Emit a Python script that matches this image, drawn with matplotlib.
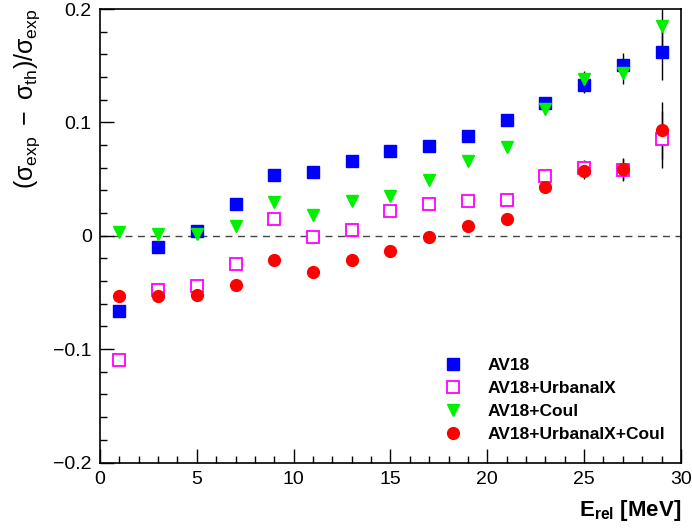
import matplotlib
matplotlib.use('Agg')
from matplotlib import pyplot as plt
from matplotlib.ticker import MultipleLocator

plt.rcParams['font.family'] = ['Liberation Sans', 'DejaVu Sans']
plt.rcParams['mathtext.fontset'] = 'custom'
plt.rcParams['mathtext.rm'] = 'Liberation Sans'
plt.rcParams['mathtext.it'] = 'Liberation Sans'
plt.rcParams['mathtext.bf'] = 'Liberation Sans:bold'

e_rel = [1, 3, 5, 7, 9, 11, 13, 15, 17, 19, 21, 23, 25, 27, 29]

av18 = [-0.066, -0.010, 0.004, 0.028, 0.054, 0.056, 0.066, 0.075, 0.079,
        0.088, 0.102, 0.117, 0.133, 0.151, 0.162]
av18_urb = [-0.110, -0.048, -0.044, -0.025, 0.015, -0.001, 0.005, 0.022,
            0.028, 0.031, 0.032, 0.053, 0.060, 0.058, 0.085]
av18_coul = [0.003, 0.002, 0.002, 0.009, 0.030, 0.018, 0.031, 0.035, 0.049,
             0.066, 0.078, 0.112, 0.138, 0.144, 0.185]
av18_urb_coul = [-0.053, -0.053, -0.052, -0.043, -0.021, -0.032, -0.021,
                 -0.013, -0.001, 0.009, 0.015, 0.043, 0.057, 0.059, 0.093]

errs = [0.001, 0.001, 0.001, 0.001, 0.001, 0.001, 0.001, 0.002, 0.002,
        0.002, 0.003, 0.005, 0.007, 0.010, 0.025]

fig = plt.figure(figsize=(6.92, 5.32), dpi=100)
ax = fig.add_axes([0.1445, 0.1306, 0.8395, 0.8524])

ax.axhline(0, color='#444444', ls=(0, (5, 4)), lw=1.0, zorder=1)

# error bars first, markers on top
for vals in [av18, av18_urb, av18_coul, av18_urb_coul]:
    ax.errorbar(e_rel, vals, yerr=errs, fmt='none', ecolor='black',
                elinewidth=1, capsize=0, zorder=2)

ax.plot(e_rel, av18, 's', color='blue', ms=8, ls='none', label='AV18',
        zorder=3)
ax.plot(e_rel, av18_urb, 's', mfc='white', mec='#ff00ff', mew=1.3, ms=8,
        ls='none', label='AV18+UrbanaIX', zorder=3)
ax.plot(e_rel, av18_coul, 'v', color='#00f000', ms=9, ls='none',
        label='AV18+Coul', zorder=3)
ax.plot(e_rel, av18_urb_coul, 'o', color='red', ms=8.5, ls='none',
        label='AV18+UrbanaIX+Coul', zorder=3)

ax.set_xlim(0, 30)
ax.set_ylim(-0.2, 0.2)
ax.xaxis.set_major_locator(MultipleLocator(5))
ax.xaxis.set_minor_locator(MultipleLocator(1))
ax.yaxis.set_major_locator(MultipleLocator(0.1))
ax.yaxis.set_minor_locator(MultipleLocator(0.02))
ax.set_yticks([-0.2, -0.1, 0, 0.1, 0.2])
ax.set_yticklabels(['\u22120.2', '\u22120.1', '0', '0.1', '0.2'])
ax.tick_params(axis='both', which='major', direction='in', length=10,
               width=1, labelsize=14, pad=6)
ax.tick_params(axis='both', which='minor', direction='in', length=5, width=1)
for s in ax.spines.values():
    s.set_linewidth(1.2)

ax.set_xlabel(r'$\mathbf{E_{rel}}$ [MeV]', fontsize=16, fontweight='bold',
              ha='right')
ax.xaxis.set_label_coords(1.0, -0.078)
ax.set_ylabel(r'$(\sigma_{\rm exp}\ -\ \sigma_{\rm th})/\sigma_{\rm exp}$',
              fontsize=18, ha='right')
ax.yaxis.set_label_coords(-0.10, 1.0)

ax.legend(loc='lower right', bbox_to_anchor=(1.0, 0.01), frameon=False,
          handletextpad=1.0, labelspacing=0.45,
          prop={'weight': 'bold', 'size': 12.5})

fig.savefig('out.png', dpi=100)
